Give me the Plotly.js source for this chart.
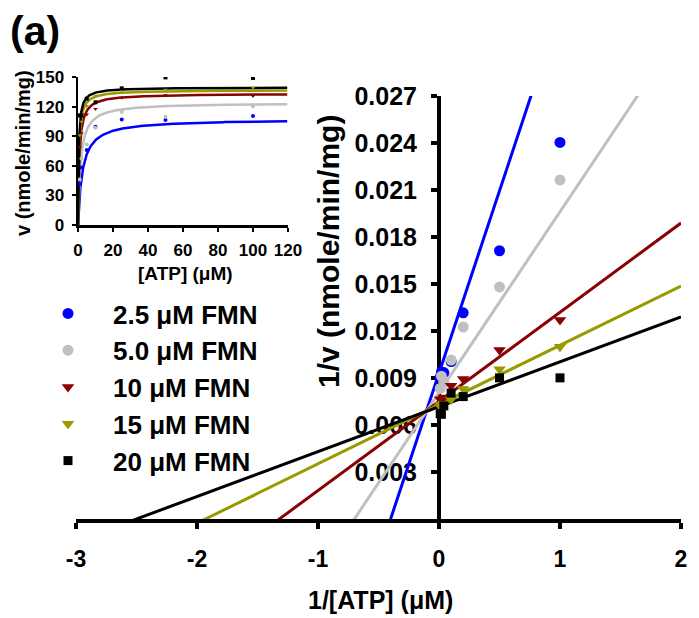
<!DOCTYPE html>
<html><head><meta charset="utf-8">
<script src="https://cdn.plot.ly/plotly-3.0.1.min.js"></script>
<style>html,body{margin:0;padding:0;background:#fff}</style>
</head><body><div id="chart" style="width:699px;height:618px"></div>
<script>
// [ATP] concentrations (µM)
const atp = [1, 2, 5, 10, 25, 50, 100];
const seriesNames = ['2.5 \u03bcM FMN', '5.0 \u03bcM FMN', '10 \u03bcM FMN', '15 \u03bcM FMN', '20 \u03bcM FMN'];
const v_fmn2_5 = [41.6, 58.4, 76, 99.5, 107, 106.5, 110.5];
const v_fmn5_0 = [46.2, 67.5, 81.6, 98.6, 114.8, 109.7, 120];
const v_fmn10 = [78.7, 92.7, 112, 117.5, 129, 131.5, 130.7];
const v_fmn15 = [91, 104.7, 120.5, 131, 136, 137, 139];
const v_fmn20 = [111, 111, 128, 124.4, 138.5, 149.6, 149];
// fitted Michaelis-Menten parameters
const vmaxFit = [107.4, 123.9, 133.2, 136.9, 139.5];
const kmFit = [2.5, 1.43, 0.758, 0.518, 0.40];
const colors = ['#0000FF', '#C0C0C0', '#8B0000', '#999900', '#000000'];
const symbols = ['circle', 'circle', 'triangle-down', 'triangle-down', 'square'];
const markerSizes = [11, 11, 11, 11, 9];
const mainXTicks = [-3, -2, -1, 0, 1, 2];
const mainXTickText = ['-3', '-2', '-1', '0', '1', '2'];
const mainYTicks = [0.003, 0.006, 0.009, 0.012, 0.015, 0.018, 0.021, 0.024, 0.027];
const insetXTicks = [0, 20, 40, 60, 80, 100, 120];
const insetYTicks = [0, 30, 60, 90, 120, 150];

const allV = [v_fmn2_5, v_fmn5_0, v_fmn10, v_fmn15, v_fmn20];
const traces = [];
const lineRangeX = [-3, 2];
const curveS = [];
for (let s = 0; s <= 120; s += (s < 5 ? 0.05 : 0.5)) curveS.push(s);

allV.forEach((v, i) => {
  // Lineweaver-Burk fit line
  traces.push({
    x: lineRangeX,
    y: lineRangeX.map(x => (kmFit[i] / vmaxFit[i]) * x + 1 / vmaxFit[i]),
    mode: 'lines', line: {color: colors[i], width: 3},
    xaxis: 'x', yaxis: 'y', showlegend: false, hoverinfo: 'skip'
  });
  // inset Michaelis-Menten fit curve
  traces.push({
    x: curveS,
    y: curveS.map(s => vmaxFit[i] * s / (kmFit[i] + s)),
    mode: 'lines', line: {color: colors[i], width: 2.5},
    xaxis: 'x2', yaxis: 'y2', showlegend: false, hoverinfo: 'skip'
  });
});
allV.forEach((v, i) => {
  traces.push({
    x: atp, y: v, mode: 'markers',
    marker: {color: colors[i], symbol: symbols[i], size: 4},
    xaxis: 'x2', yaxis: 'y2', showlegend: false
  });
});
allV.forEach((v, i) => {
  traces.push({
    x: atp.map(a => 1 / a), y: v.map(r => 1 / r), mode: 'markers',
    name: seriesNames[i],
    marker: {color: colors[i], symbol: symbols[i], size: markerSizes[i]},
    xaxis: 'x', yaxis: 'y', showlegend: true
  });
});

const F = 'Liberation Sans, Arial, sans-serif';
const bold = (size) => ({family: F, size: size, color: '#000', weight: 'bold'});
const L = 76, R = 18, T = 70, B = 99, W = 699, H = 618;
const pw = W - L - R, ph = H - T - B;
const px = (x) => (x - L) / pw;
const py = (y) => (H - B - y) / ph;

const layout = {
  width: W, height: H,
  margin: {l: L, r: R, t: T, b: B, pad: 0},
  paper_bgcolor: '#fff', plot_bgcolor: 'rgba(0,0,0,0)',
  showlegend: true,
  legend: {x: px(23), y: py(290), xanchor: 'left', yanchor: 'top', font: bold(26),
           itemwidth: 80, bgcolor: 'rgba(0,0,0,0)', traceorder: 'normal'},
  xaxis: {domain: [0, 1], range: [-3, 2], anchor: 'y', tickvals: mainXTicks, ticktext: mainXTickText,
          ticks: 'outside', ticklen: 6, tickwidth: 4, tickcolor: '#000', showline: true, linewidth: 4, linecolor: '#000',
          showgrid: false, zeroline: false, tickfont: bold(23), ticklabelstandoff: 10, layer: 'below traces'},
  yaxis: {domain: [0, py(96)], range: [0, 0.027], anchor: 'free', position: 0.6,
          tickvals: mainYTicks, ticktext: mainYTicks.map(t => t.toFixed(3)),
          ticks: 'outside', ticklen: 6, tickwidth: 4, tickcolor: '#000', showline: true, linewidth: 4, linecolor: '#000',
          showgrid: false, zeroline: false, tickfont: bold(25), ticklabelstandoff: 9, layer: 'below traces'},
  xaxis2: {domain: [px(78), px(288)], range: [0, 120], anchor: 'y2', tickvals: insetXTicks,
           ticks: 'outside', ticklen: 4, tickwidth: 2, tickcolor: '#000', showline: true, linewidth: 2.5, linecolor: '#000',
           showgrid: false, zeroline: false, tickfont: bold(17), ticklabelstandoff: 4},
  yaxis2: {domain: [py(225), py(77)], range: [0, 150], anchor: 'x2', tickvals: insetYTicks,
           ticks: 'outside', ticklen: 4, tickwidth: 2, tickcolor: '#000', showline: true, linewidth: 2.5, linecolor: '#000',
           showgrid: false, zeroline: false, tickfont: bold(17), ticklabelstandoff: 4},
  annotations: [
    {text: '(a)', xref: 'paper', yref: 'paper', x: px(8), y: py(31), xanchor: 'left', yanchor: 'middle', showarrow: false, font: bold(41)},
    {text: '1/v (nmole/min/mg)', xref: 'paper', yref: 'paper', x: px(328), y: py(252), xanchor: 'center', yanchor: 'middle', textangle: -90, showarrow: false, font: bold(30)},
    {text: '1/[ATP] (\u03bcM)', xref: 'paper', yref: 'paper', x: px(380), y: py(600), xanchor: 'center', yanchor: 'middle', showarrow: false, font: bold(25)},
    {text: 'v (nmole/min/mg)', xref: 'paper', yref: 'paper', x: px(23), y: py(153), xanchor: 'center', yanchor: 'middle', textangle: -90, showarrow: false, font: bold(20)},
    {text: '[ATP] (\u03bcM)', xref: 'paper', yref: 'paper', x: px(185), y: py(273), xanchor: 'center', yanchor: 'middle', showarrow: false, font: bold(19)}
  ]
};
Plotly.newPlot('chart', traces, layout, {staticPlot: true, displayModeBar: false});
</script>
</body></html>
